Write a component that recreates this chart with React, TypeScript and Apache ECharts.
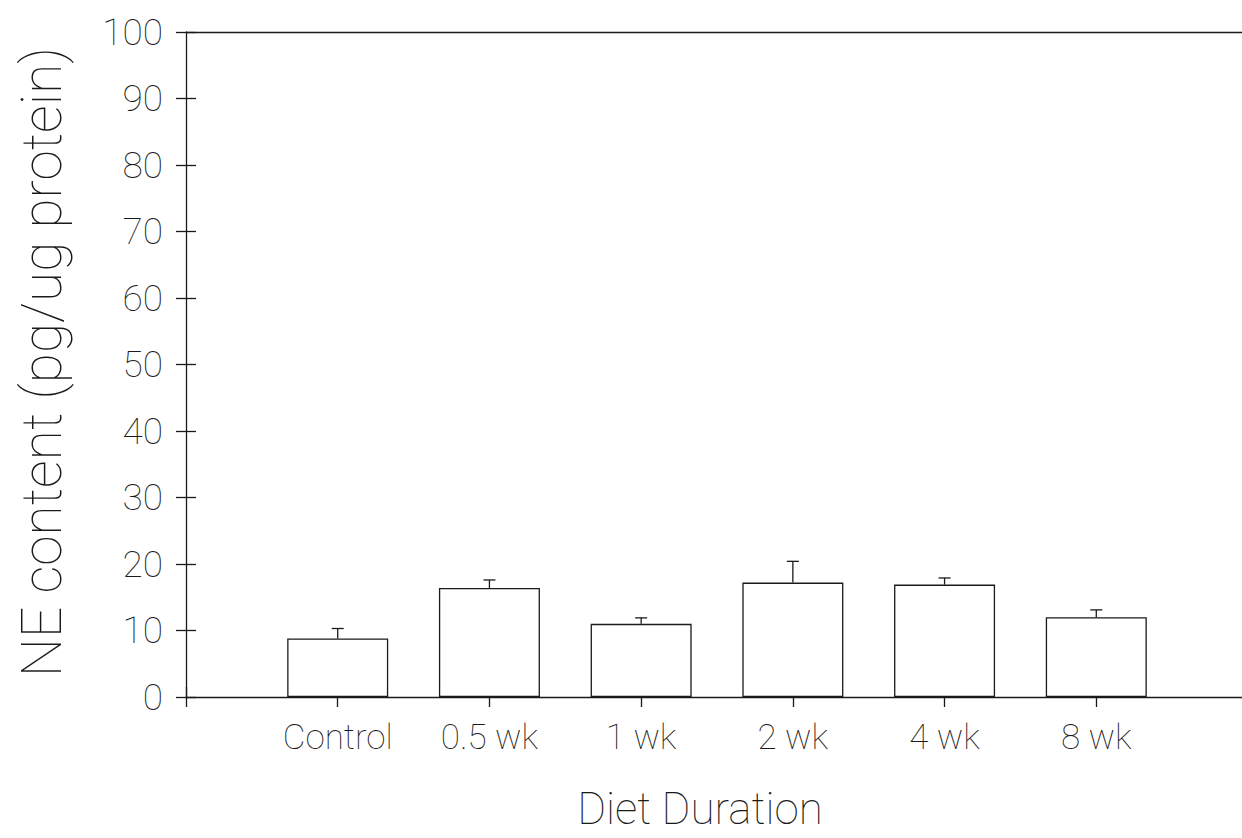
import React, { useEffect, useRef } from "react";
import * as echarts from "echarts";

const categories = ["Control", "0.5 wk", "1 wk", "2 wk", "4 wk", "8 wk"];
const means = [8.8, 16.4, 11.0, 17.2, 16.9, 12.0];
const errors = [1.5, 1.2, 0.9, 3.2, 1.0, 1.1];
const yTicks = [0, 10, 20, 30, 40, 50, 60, 70, 80, 90, 100];

const FONT = "Roboto";
const WEIGHT = 100;
const INK = "#1a1a1a";

export default function App() {
  const ref = useRef<HTMLDivElement>(null);
  useEffect(() => {
    if (!ref.current) return;
    const chart = echarts.init(ref.current, null, { renderer: "svg" });
    const barData = means.map((m, i) => [i + 1, m]);
    const errData = means.map((m, i) => [i + 1, m, m + errors[i]]);
    const lineStyle = { color: INK, width: 1.3 };
    chart.setOption({
      animation: false,
      backgroundColor: "#ffffff",
      grid: {
        left: 186,
        top: 32,
        width: 1062,
        height: 665,
        containLabel: false,
        outerBoundsMode: "none",
      },
      xAxis: [
        {
          type: "value",
          min: 0,
          max: 7,
          interval: 1,
          position: "bottom",
          axisLine: { show: true, lineStyle },
          axisTick: { show: true, inside: false, length: 10, lineStyle },
          splitLine: { show: false },
          axisLabel: {
            show: true,
            margin: 23,
            fontFamily: FONT,
            fontWeight: WEIGHT,
            fontSize: 35,
            color: INK,
            formatter: (v: number) => (v >= 1 && v <= categories.length ? categories[v - 1] : ""),
          },
        },
        {
          type: "value",
          min: 0,
          max: 7,
          interval: 1,
          position: "bottom",
          axisLine: { show: false },
          axisTick: { show: true, inside: true, length: 10, lineStyle },
          splitLine: { show: false },
          axisLabel: { show: false },
        },
        {
          type: "value",
          min: 0,
          max: 7,
          position: "top",
          axisLine: { show: true, lineStyle },
          axisTick: { show: false },
          splitLine: { show: false },
          axisLabel: { show: false },
        },
      ],
      yAxis: [
        {
          type: "value",
          min: yTicks[0],
          max: yTicks[yTicks.length - 1],
          interval: 10,
          position: "left",
          axisLine: { show: true, lineStyle },
          axisTick: { show: true, inside: false, length: 10, lineStyle },
          splitLine: { show: false },
          axisLabel: {
            margin: 23,
            fontFamily: FONT,
            fontWeight: WEIGHT,
            fontSize: 37,
            color: INK,
          },
        },
        {
          type: "value",
          min: yTicks[0],
          max: yTicks[yTicks.length - 1],
          interval: 10,
          position: "left",
          axisLine: { show: false },
          axisTick: { show: true, inside: true, length: 10, lineStyle },
          splitLine: { show: false },
          axisLabel: { show: false },
        },
      ],
      series: [
        {
          type: "bar",
          xAxisIndex: 0,
          yAxisIndex: 0,
          data: barData,
          barWidth: 101,
          itemStyle: { color: "#ffffff", borderColor: INK, borderWidth: 1.3 },
          z: 2,
        },
        {
          type: "custom",
          xAxisIndex: 0,
          yAxisIndex: 0,
          data: errData,
          z: 3,
          renderItem: (params: any, api: any) => {
            const x = api.value(0);
            const low = api.coord([x, api.value(1)]);
            const high = api.coord([x, api.value(2)]);
            const half = 6;
            const style = { stroke: INK, lineWidth: 1.3, fill: "none" };
            return {
              type: "group",
              children: [
                { type: "line", shape: { x1: low[0], y1: low[1], x2: high[0], y2: high[1] }, style },
                { type: "line", shape: { x1: high[0] - half, y1: high[1], x2: high[0] + half, y2: high[1] }, style },
              ],
            };
          },
        },
      ],
      graphic: [
        {
          type: "text",
          x: 42,
          y: 362,
          rotation: Math.PI / 2,
          style: {
            text: "NE content (pg/ug protein)",
            fontFamily: FONT,
            fontWeight: WEIGHT,
            fontSize: 55,
            fill: INK,
            textAlign: "center",
            textVerticalAlign: "middle",
          },
        },
        {
          type: "text",
          x: 700,
          y: 809,
          style: {
            text: "Diet Duration",
            fontFamily: FONT,
            fontWeight: WEIGHT,
            fontSize: 44,
            fill: INK,
            textAlign: "center",
            textVerticalAlign: "middle",
          },
        },
      ],
    });
    return () => chart.dispose();
  }, []);
  return (
    <div
      ref={ref}
      style={{ position: "fixed", left: 0, top: 0, width: 1242, height: 838, background: "#fff" }}
    />
  );
}
